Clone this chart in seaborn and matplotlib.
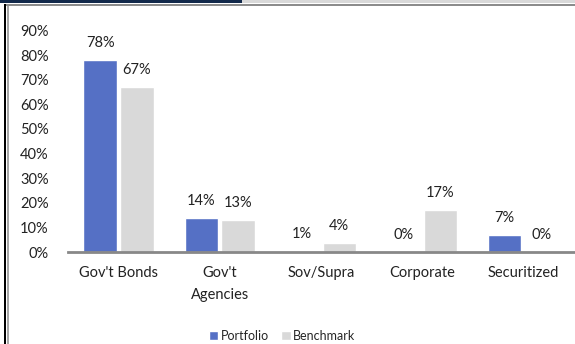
import matplotlib
matplotlib.use("Agg")
import matplotlib.pyplot as plt
from matplotlib.patches import Rectangle
import seaborn as sns
import pandas as pd

categories = ["Gov't Bonds", "Gov't\nAgencies", "Sov/Supra", "Corporate", "Securitized"]
portfolio = [78, 14, 0.6, 0, 7]
benchmark = [67, 13, 3.6, 17, 0]
series = ["Portfolio", "Benchmark"]
yticks = [0, 10, 20, 30, 40, 50, 60, 70, 80, 90]

df = pd.DataFrame({
    "category": categories * 2,
    "value": portfolio + benchmark,
    "series": [series[0]] * len(categories) + [series[1]] * len(categories),
})

sns.set_theme(style="white")
plt.rcParams["font.family"] = ["Lato", "DejaVu Sans"]

W, H = 575, 344
fig = plt.figure(figsize=(W / 100, H / 100), dpi=100)
ax = fig.add_axes([68 / W, 1 - 252 / H, 505.5 / W, 221.4 / H])

palette = {"Portfolio": "#5570C5", "Benchmark": "#D9D9D9"}
sns.barplot(data=df, x="category", y="value", hue="series", palette=palette,
            width=0.73, gap=0.1, ax=ax, saturation=1, legend=True)

ax.set_ylim(0, 90)
ax.set_yticks(yticks)
ax.set_yticklabels([f"{t}%" for t in yticks], fontsize=10.5, color="#222222")
ax.tick_params(axis="y", length=0, pad=14)
ax.tick_params(axis="x", length=0, pad=10, labelsize=10.5, labelcolor="#222222")
for lbl in ax.get_xticklabels():
    lbl.set_linespacing(1.75)
ax.set_xlabel("")
ax.set_ylabel("")
for s in ["top", "right", "left"]:
    ax.spines[s].set_visible(False)
ax.spines["bottom"].set_color("#888888")
ax.spines["bottom"].set_linewidth(2)
ax.set_xlim(-0.5, len(categories) - 0.5)

for cont in ax.containers:
    ax.bar_label(cont, labels=[f"{v:.0f}%" for v in cont.datavalues],
                 padding=7, fontsize=10.5, color="#222222")

handles, labels = ax.get_legend_handles_labels()
ax.legend(handles, labels, loc="center", bbox_to_anchor=(282 / W, 1 - 336 / H),
          bbox_transform=fig.transFigure, ncol=2, frameon=False,
          handlelength=0.75, handleheight=0.75, handletextpad=0.2,
          columnspacing=1.0, fontsize=9)

# decorative frame
def px_rect(x0, y0, x1, y1, color):
    fig.add_artist(Rectangle((x0 / W, 1 - y1 / H), (x1 - x0) / W, (y1 - y0) / H,
                             transform=fig.transFigure, facecolor=color,
                             edgecolor="none", zorder=10))

px_rect(0, 0, 242, 3, "#12294B")
px_rect(242, 0, W, 3, "#D9D9D9")
px_rect(4, 4, W, 6, "#8C8C8C")
px_rect(4, 4, 6, H, "#000000")
px_rect(7, 6, 9, H, "#A6A6A6")

fig.savefig("out.png", dpi=100)
